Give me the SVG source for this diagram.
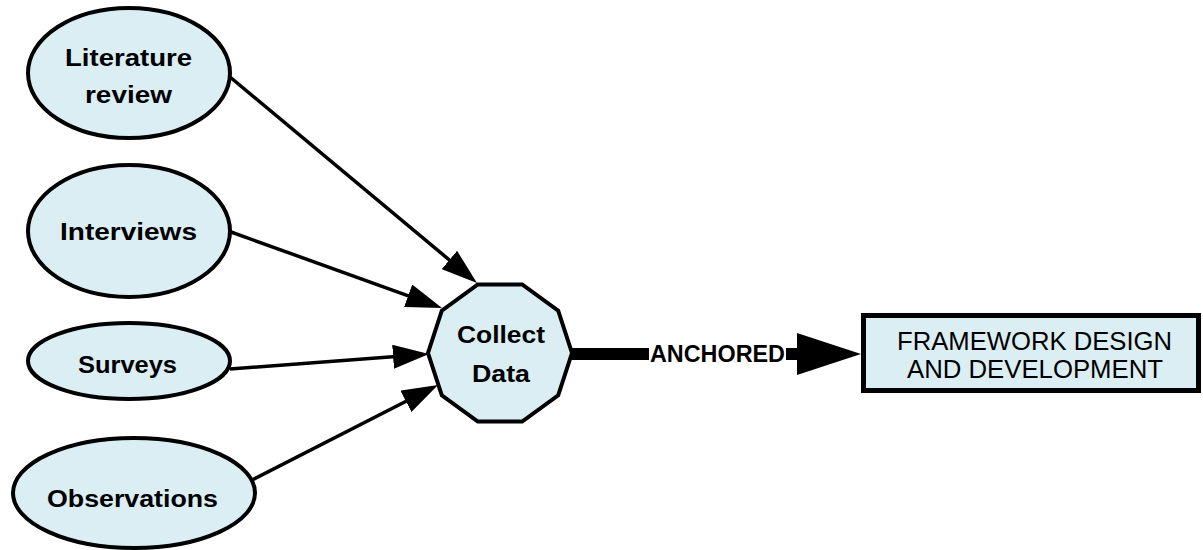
<svg xmlns="http://www.w3.org/2000/svg" width="1203" height="550" viewBox="0 0 1203 550">
  <style>
    .node { fill: #dbeef3; stroke: #000; stroke-width: 4; }
    .lbl { font-family: "Liberation Sans", Arial, sans-serif; font-weight: bold; font-size: 23.5px; fill: #000; text-anchor: start; }
    .box-lbl { font-family: "Liberation Sans", Arial, sans-serif; font-size: 25.5px; fill: #000; }
    .edge { stroke: #000; stroke-width: 3.5; fill: none; marker-end: url(#arrow); }
  </style>
  <defs>
    <marker id="arrow" markerUnits="userSpaceOnUse" markerWidth="36" markerHeight="24" refX="26" refY="12" orient="auto">
      <path d="M0,0 L36,12 L0,24 Z" fill="#000"/>
    </marker>
  </defs>

  <rect width="1203" height="550" fill="#fff"/>

  <!-- connectors -->
  <g id="connectors">
    <line class="edge" x1="230" y1="77" x2="469.3" y2="276.6"/>
    <line class="edge" x1="231" y1="232" x2="432.6" y2="304.6"/>
    <line class="edge" x1="230" y1="369" x2="419" y2="354.8"/>
    <line class="edge" x1="252" y1="480" x2="429.1" y2="389.5"/>
    <g id="anchored">
      <line x1="568" y1="354" x2="800" y2="354" stroke="#000" stroke-width="12"/>
      <circle cx="569" cy="354" r="6.5" fill="#000"/>
      <polygon points="797,333 861,354 797,375" fill="#000"/>
      <rect x="649" y="340" width="137" height="28" fill="#fff"/>
      <text class="lbl" x="650" y="362" font-size="22" textLength="135" lengthAdjust="spacingAndGlyphs">ANCHORED</text>
    </g>
  </g>

  <!-- source nodes -->
  <g id="literature">
    <ellipse class="node" cx="129" cy="73" rx="101" ry="65"/>
    <text class="lbl" x="65" y="66" textLength="127" lengthAdjust="spacingAndGlyphs">Literature</text>
    <text class="lbl" x="85" y="103" textLength="87" lengthAdjust="spacingAndGlyphs">review</text>
  </g>
  <g id="interviews">
    <ellipse class="node" cx="129" cy="231" rx="101" ry="66"/>
    <text class="lbl" x="60" y="240" textLength="137" lengthAdjust="spacingAndGlyphs">Interviews</text>
  </g>
  <g id="surveys">
    <ellipse class="node" cx="129" cy="361" rx="101" ry="38"/>
    <text class="lbl" x="78" y="373" textLength="99" lengthAdjust="spacingAndGlyphs">Surveys</text>
  </g>
  <g id="observations">
    <ellipse class="node" cx="134" cy="493" rx="121" ry="55"/>
    <text class="lbl" x="47" y="507" textLength="171" lengthAdjust="spacingAndGlyphs">Observations</text>
  </g>

  <!-- hub node -->
  <g id="collect">
    <polygon class="node" points="572,353 558.2,395.3 522.2,421.5 477.8,421.5 441.8,395.3 428,353 441.8,310.7 477.8,284.5 522.2,284.5 558.2,310.7"/>
    <text class="lbl" x="457" y="343" textLength="88" lengthAdjust="spacingAndGlyphs">Collect</text>
    <text class="lbl" x="472" y="382" textLength="58" lengthAdjust="spacingAndGlyphs">Data</text>
  </g>

  <!-- target node -->
  <g id="framework">
    <rect x="863.5" y="315.5" width="335" height="75" fill="#dbeef3" stroke="#000" stroke-width="5"/>
    <text class="box-lbl" x="897" y="350" textLength="275" lengthAdjust="spacingAndGlyphs">FRAMEWORK DESIGN</text>
    <text class="box-lbl" x="907" y="378" textLength="256" lengthAdjust="spacingAndGlyphs">AND DEVELOPMENT</text>
  </g>
</svg>
